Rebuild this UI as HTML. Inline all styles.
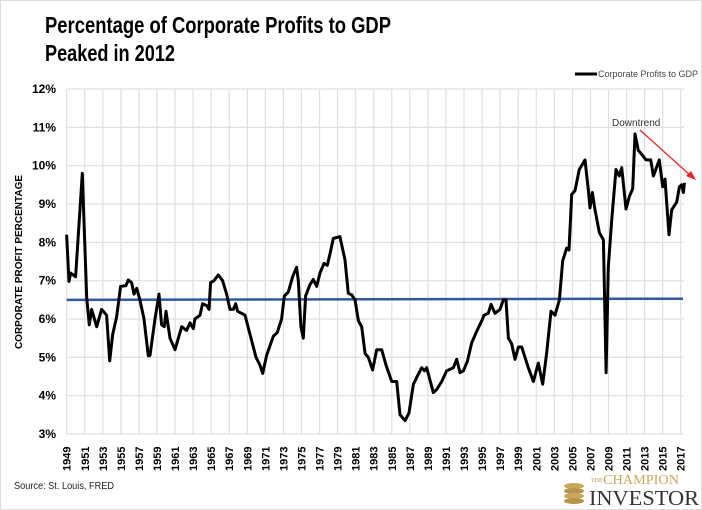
<!DOCTYPE html>
<html><head><meta charset="utf-8"><style>
html,body{margin:0;padding:0;background:#fff;}
svg{display:block;font-family:"Liberation Sans",Arial,sans-serif;}
</style></head><body>
<svg id="chart" width="702" height="510" viewBox="0 0 702 510">
<rect x="0" y="0" width="702" height="510" fill="#fff" stroke="#ddd" stroke-width="2"/>
<text x="45" y="33" font-size="23" font-weight="bold" textLength="346" lengthAdjust="spacingAndGlyphs">Percentage of Corporate Profits to GDP</text>
<text x="45" y="61" font-size="23" font-weight="bold" textLength="130" lengthAdjust="spacingAndGlyphs">Peaked in 2012</text>
<g>
<line x1="575" y1="74" x2="597" y2="74" stroke="#000" stroke-width="3"/>
<text x="598" y="77" font-size="9" fill="#444" textLength="100" lengthAdjust="spacingAndGlyphs">Corporate Profits to GDP</text>
</g>
<g id="grid"></g>
<g id="yticks"></g>
<g id="xticks"></g>
<text transform="translate(22,262) rotate(-90)" text-anchor="middle" font-size="10" font-weight="bold">CORPORATE PROFIT PERCENTAGE</text>
<line id="avgline" stroke="#2e5aa0" stroke-width="2.5"/>
<path id="series" fill="none" stroke="#000" stroke-width="3" stroke-linejoin="round"/>
<text x="612" y="126" font-size="10" fill="#333">Downtrend</text>
<line x1="640" y1="130" x2="691" y2="176" stroke="#e22" stroke-width="1.2"/>
<polygon points="696,180 686,176 691,171" fill="#e22"/>
<text x="14" y="489" font-size="10" fill="#222" textLength="100" lengthAdjust="spacingAndGlyphs">Source: St. Louis, FRED</text>
<g>
<ellipse cx="574" cy="486" rx="10" ry="3" fill="#c9a75a"/>
<ellipse cx="574" cy="491" rx="10" ry="3" fill="#b8944a"/>
<ellipse cx="574" cy="496" rx="10" ry="3" fill="#c9a75a"/>
<ellipse cx="574" cy="501" rx="10" ry="3" fill="#b8944a"/>
<text x="591" y="482" font-family="Liberation Serif,serif" font-size="6" fill="#b8944a">THE</text>
<text x="603" y="484" font-family="Liberation Serif,serif" font-size="14" fill="#c9a75a" textLength="76" lengthAdjust="spacingAndGlyphs">CHAMPION</text>
<text x="589" y="505" font-family="Liberation Serif,serif" font-size="21" fill="#333" textLength="110" lengthAdjust="spacingAndGlyphs">INVESTOR</text>
</g>
</svg>
<script>
const years = [1948.99,1949.25,1949.44,1949.99,1950.73,1951.21,1951.5,1951.76,1952.32,1952.87,1953.42,1953.76,1954.09,1954.53,1954.97,1955.56,1955.82,1956.19,1956.45,1956.75,1957.11,1957.56,1958.04,1958.22,1958.78,1959.22,1959.51,1959.81,1960.0,1960.44,1960.99,1961.73,1962.28,1962.65,1963.02,1963.2,1963.76,1964.05,1964.5,1964.76,1964.94,1965.31,1965.79,1966.27,1966.71,1967.08,1967.45,1967.71,1967.93,1968.37,1968.74,1969.3,1969.96,1970.4,1970.7,1971.14,1971.88,1972.32,1972.8,1973.1,1973.54,1974.02,1974.46,1974.65,1974.94,1975.2,1975.46,1975.94,1976.31,1976.68,1977.05,1977.49,1977.86,1978.16,1978.52,1979.26,
1979.82,1980.19,1980.56,1980.93,1981.3,1981.67,1982.04,1982.4,1982.88,1983.33,1983.88,1984.36,1984.99,1985.54,1985.91,1986.47,1986.91,1987.39,1987.94,1988.31,1988.61,1988.87,1989.6,1989.97,1990.53,1991.08,1991.82,1992.19,1992.56,1992.93,1993.37,1993.85,1994.4,1994.96,1995.21,1995.69,1995.99,1996.43,1996.99,1997.36,1997.65,1997.91,1998.28,1998.65,1999.02,1999.39,1999.75,2000.12,2000.68,2001.23,2001.71,2002.15,2002.63,2003.08,2003.56,2003.93,2004.37,2004.63,2004.92,2005.29,2005.77,2006.4,2006.77,2006.95,2007.21,2007.51,2007.99,2008.43,2008.73,2008.98,2009.35,2009.83,2010.2,2010.46,2010.94,2011.31,2011.68,2011.94,2012.3,2012.67,2013.15,2013.67,2013.97,2014.63,2015.0,2015.26,2015.7,2016.0,2016.55,2016.85,2017.1,2017.29,2017.4];
const profits = [8.2,6.98,7.2,7.1,9.8,6.55,5.85,6.25,5.8,6.25,6.1,4.91,5.6,6.05,6.85,6.87,7.02,6.95,6.65,6.8,6.5,6.0,5.04,5.05,6.0,6.65,5.85,5.8,6.2,5.5,5.2,5.8,5.7,5.9,5.75,6.0,6.1,6.4,6.35,6.25,6.95,7.0,7.15,7.0,6.65,6.25,6.25,6.4,6.2,6.15,6.1,5.6,5.0,4.8,4.58,5.05,5.55,5.65,6.0,6.6,6.7,7.1,7.35,7.0,5.8,5.5,6.6,6.9,7.03,6.85,7.2,7.45,7.4,7.7,8.1,8.15,
7.54,6.67,6.63,6.5,5.95,5.8,5.1,5.0,4.67,5.2,5.2,4.8,4.37,4.37,3.5,3.35,3.55,4.3,4.56,4.73,4.65,4.73,4.08,4.16,4.37,4.65,4.73,4.95,4.6,4.65,4.9,5.38,5.68,5.95,6.1,6.15,6.38,6.15,6.25,6.5,6.5,5.5,5.35,4.95,5.27,5.27,5.0,4.73,4.37,4.85,4.3,5.1,6.2,6.1,6.5,7.52,7.85,7.8,9.25,9.35,9.9,10.15,9.35,8.9,9.3,8.85,8.25,8.07,4.6,7.35,8.58,9.9,9.73,9.95,8.87,9.2,9.4,10.83,10.4,10.3,10.15,10.15,9.73,10.15,9.45,9.65,8.2,8.85,9.05,9.45,9.5,9.3,9.55];
const avgStart = 6.5, avgEnd = 6.53;
const yTicks = [3,4,5,6,7,8,9,10,11,12];
const xTickYears = [1949,1951,1953,1955,1957,1959,1961,1963,1965,1967,1969,1971,1973,1975,1977,1979,1981,1983,1985,1987,1989,1991,1993,1995,1997,1999,2001,2003,2005,2007,2009,2011,2013,2015,2017];
const X0=66.7, XS=9.03, Y0=434, YS=38.33, XR=684;
function xs(y){return X0+(y-1949)*XS;}
function ys(v){return Y0-(v-3)*YS;}
const NS="http://www.w3.org/2000/svg";
const grid=document.getElementById('grid'), yt=document.getElementById('yticks'), xt=document.getElementById('xticks');
yTicks.forEach(t=>{
  const l=document.createElementNS(NS,'line');
  l.setAttribute('x1',X0);l.setAttribute('x2',XR);l.setAttribute('y1',ys(t));l.setAttribute('y2',ys(t));
  l.setAttribute('stroke','#e0e0e0');l.setAttribute('stroke-width','1.2');
  
  
  grid.appendChild(l);
  const tx=document.createElementNS(NS,'text');
  tx.setAttribute('x',56);tx.setAttribute('y',ys(t)+4);tx.setAttribute('text-anchor','end');
  tx.setAttribute('font-size','12');tx.setAttribute('font-weight','bold');
  tx.textContent=t+'%';
  
  
  yt.appendChild(tx);
});
xTickYears.forEach(yr=>{
  const x=xs(yr);
  const l=document.createElementNS(NS,'line');
  l.setAttribute('x1',x);l.setAttribute('x2',x);l.setAttribute('y1',ys(12));l.setAttribute('y2',ys(3));
  l.setAttribute('stroke','#e0e0e0');l.setAttribute('stroke-width','1.2');
  
  
  grid.appendChild(l);
  const tx=document.createElementNS(NS,'text');
  tx.setAttribute('transform','translate('+(x+4)+',471) rotate(-90)');
  tx.setAttribute('font-size','11');tx.setAttribute('font-weight','bold');
  tx.textContent=yr;
  
  
  xt.appendChild(tx);
});
const av=document.getElementById('avgline');
av.setAttribute('x1',X0);av.setAttribute('x2',XR-1);av.setAttribute('y1',ys(avgStart));av.setAttribute('y2',ys(avgEnd));
let d='';
years.forEach((y,i)=>{d+=(i?'L':'M')+xs(y).toFixed(1)+','+ys(profits[i]).toFixed(1);});
document.getElementById('series').setAttribute('d',d);
</script>
</body></html>
